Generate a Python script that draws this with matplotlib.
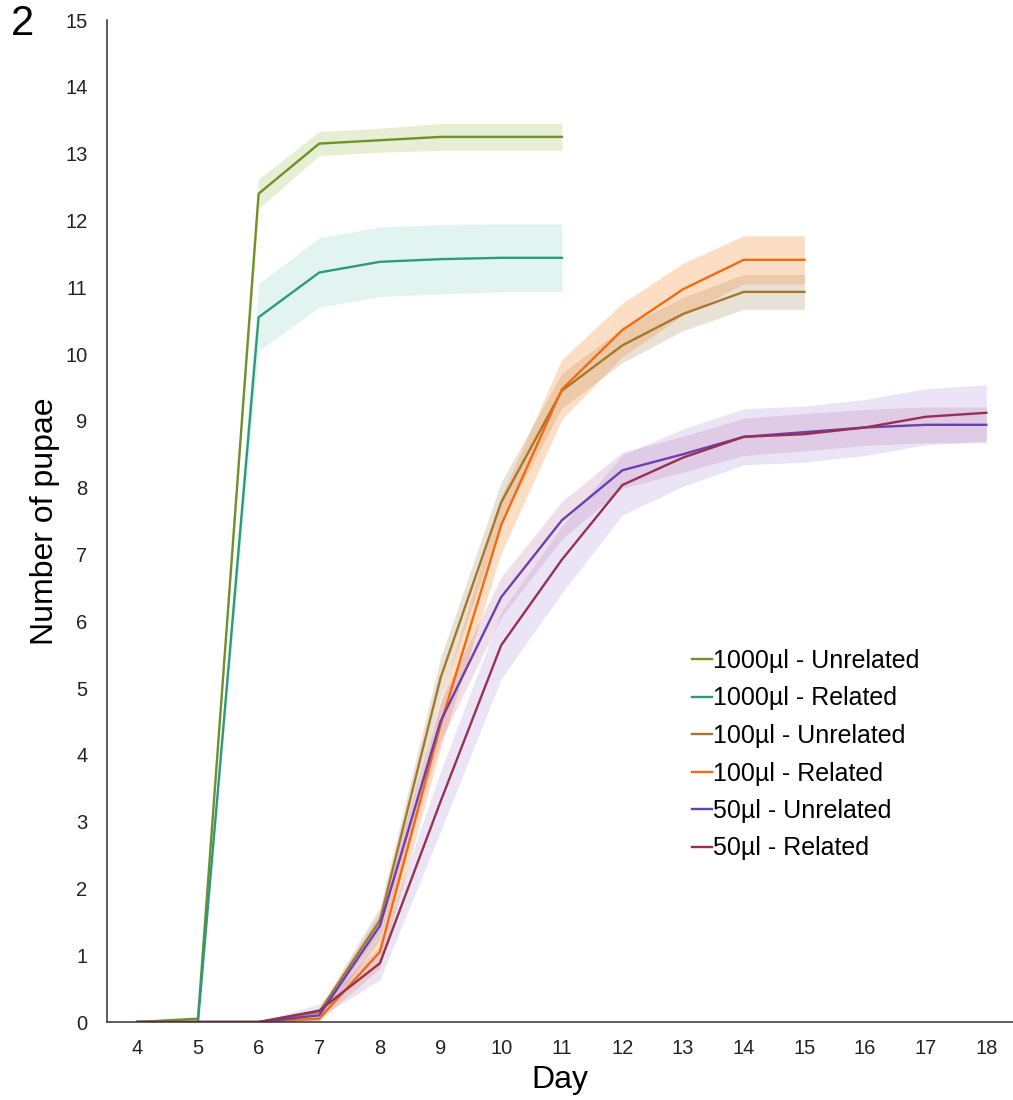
import matplotlib
matplotlib.use('Agg')
import numpy as np
from matplotlib import pyplot as plt

# Pupation counts per day (mean and half-width of shaded band)
days = list(range(4, 19))

u1000 = [0, 0.05, 12.4, 13.15, 13.2, 13.25, 13.25, 13.25]
u1000Err = [0, 0.02, 0.22, 0.18, 0.18, 0.2, 0.2, 0.2]
r1000 = [0, 0, 10.55, 11.22, 11.38, 11.42, 11.44, 11.44]
r1000Err = [0, 0, 0.5, 0.52, 0.52, 0.52, 0.51, 0.51]

u100 = [0, 0, 0, 0.15, 1.52, 5.15, 7.78, 9.45, 10.13, 10.6, 10.93, 10.93]
u100Err = [0, 0, 0, 0.05, 0.2, 0.3, 0.3, 0.26, 0.26, 0.25, 0.26, 0.26]
r100 = [0, 0, 0, 0.05, 1.05, 4.45, 7.44, 9.47, 10.36, 10.97, 11.41, 11.41]
r100Err = [0, 0, 0, 0.03, 0.25, 0.35, 0.42, 0.45, 0.4, 0.39, 0.36, 0.36]

u50 = [0, 0, 0, 0.1, 1.44, 4.5, 6.36, 7.51, 8.26, 8.5, 8.76, 8.83, 8.9, 8.94, 8.94]
u50Err = [0, 0, 0, 0.08, 0.2, 0.3, 0.3, 0.28, 0.27, 0.27, 0.28, 0.28, 0.27, 0.27, 0.27]
r50 = [0, 0, 0, 0.17, 0.88, 3.3, 5.64, 6.92, 8.04, 8.45, 8.76, 8.8, 8.9, 9.06, 9.12]
r50Err = [0, 0, 0, 0.1, 0.25, 0.45, 0.5, 0.5, 0.45, 0.43, 0.42, 0.42, 0.42, 0.42, 0.42]

labels = ['1000µl - Unrelated', '1000µl - Related', '100µl - Unrelated',
          '100µl - Related', '50µl - Unrelated', '50µl - Related']
lineCols = ['#6e9128', '#2e9a7c', '#a5782c', '#f36a10', '#6a3fb0', '#983050']
bandCols = ['#8fb53a', '#4cc0a0', '#a58a5a', '#f89440', '#b0609a', '#a888dc']
bandAlpha = [0.22, 0.16, 0.25, 0.3, 0.2, 0.22]

series = [(u1000, u1000Err), (r1000, r1000Err), (u100, u100Err),
          (r100, r100Err), (u50, u50Err), (r50, r50Err)]

plt.rc('font', family=['Liberation Sans', 'DejaVu Sans'])

fig = plt.figure(figsize=(10.13, 11.0), dpi=100)
ax = fig.add_axes([107/1013, 78/1100, 906/1013, 1002/1100])

for (vals, err), bc, ba in zip(series, bandCols, bandAlpha):
    x = days[:len(vals)]
    v = np.array(vals)
    e = np.array(err)
    ax.fill_between(x, v - e, v + e, color=bc, alpha=ba, lw=0)

for (vals, err), lc, lab in zip(series, lineCols, labels):
    ax.plot(days[:len(vals)], vals, color=lc, lw=1.7, label=lab)

ax.set_xlim(3.5, 18.44)
ax.set_ylim(0, 15)
ax.set_xticks(days)
ax.set_yticks(range(0, 16))
ax.tick_params(axis='both', length=0, labelsize=14.5, colors='#222222')
ax.tick_params(axis='y', pad=14)
ax.tick_params(axis='x', pad=12)
for s in ['top', 'right']:
    ax.spines[s].set_visible(False)
for s in ['left', 'bottom']:
    ax.spines[s].set_color('#333333')
    ax.spines[s].set_linewidth(1.1)

ax.set_xlabel('Day', fontsize=23)
ax.xaxis.set_label_coords(0.5, -0.043)
ax.set_ylabel('Number of pupae', fontsize=23)
ax.yaxis.set_label_coords(-0.052, 0.5)

ax.legend(loc='upper left', bbox_to_anchor=(692/1013, 1 - 649/1100),
          bbox_transform=fig.transFigure, frameon=False, fontsize=18,
          handlelength=0.8, handletextpad=0.05, labelspacing=0.54,
          borderpad=0, borderaxespad=0)

fig.text(0.011, 1 - 4/1100, '2', fontsize=30, ha='left', va='top')

fig.savefig('out.png', dpi=100)
